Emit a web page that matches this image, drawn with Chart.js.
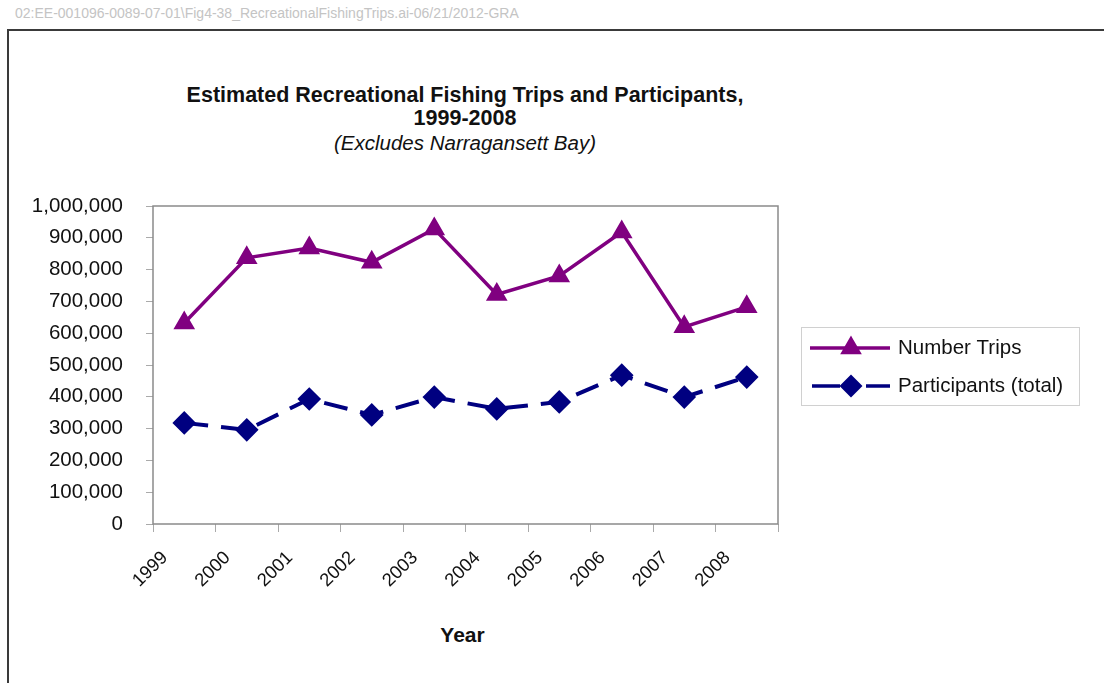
<!DOCTYPE html>
<html>
<head>
<meta charset="utf-8">
<script src="https://cdn.jsdelivr.net/npm/chart.js@4.4.1/dist/chart.umd.min.js"></script>
<style>
  html, body { margin: 0; padding: 0; background: #fff; }
  #wrap { position: relative; width: 1104px; height: 683px; overflow: hidden; font-family: "Liberation Sans", Arial, sans-serif; }
  #hdr { position: absolute; left: 15px; top: 5px; font-size: 14px; color: #c4c4c4; white-space: nowrap; }
  #frame { position: absolute; left: 7px; top: 29px; width: 1200px; height: 800px; border-left: 2px solid #3a3a3a; border-top: 2px solid #3a3a3a; }
  .t { position: absolute; left: 0; width: 930px; text-align: center; color: #111; white-space: nowrap; line-height: 1; }
  #t1 { top: 85px; font-size: 21.5px; font-weight: bold; }
  #t2 { top: 108px; font-size: 21.5px; font-weight: bold; }
  #t3 { top: 133px; font-size: 20.5px; font-style: italic; }
  #xt { position: absolute; left: 0; width: 925px; top: 624px; text-align: center; font-size: 21px; font-weight: bold; color: #111; line-height: 1; }
  canvas { position: absolute; left: 0; top: 0; }
</style>
</head>
<body>
<div id="wrap">
  <div id="hdr">02:EE-001096-0089-07-01\Fig4-38_RecreationalFishingTrips.ai-06/21/2012-GRA</div>
  <div id="frame"></div>
  <div class="t" id="t1">Estimated Recreational Fishing Trips and Participants,</div>
  <div class="t" id="t2">1999-2008</div>
  <div class="t" id="t3">(Excludes Narragansett Bay)</div>
  <div id="xt">Year</div>
  <canvas id="c" width="1104" height="683"></canvas>
</div>
<script>
const years = ["1999","2000","2001","2002","2003","2004","2005","2006","2007","2008"];
const tripsLabel = "Number Trips";
const partsLabel = "Participants (total)";
const trips = [632000, 837000, 868000, 823000, 928000, 722000, 780000, 918000, 620000, 683000];
const participants = [318000, 296000, 393000, 343000, 399000, 362000, 384000, 468000, 399000, 462000];
const yTicksMax = 1000000;
const yTickStep = 100000;

const purple = "#800080";
const navy = "#000080";

const toPoints = arr => arr.map((v, i) => ({ x: i + 0.5, y: v }));

const framePlugin = {
  id: "frameBox",
  beforeDatasetsDraw(chart) {
    const { ctx, chartArea: a } = chart;
    ctx.save();
    ctx.strokeStyle = "#8a8a8a";
    ctx.lineWidth = 1.5;
    ctx.strokeRect(a.left, a.top, a.right - a.left, a.bottom - a.top);
    ctx.restore();
  }
};

const legendPlugin = {
  id: "customLegend",
  afterDraw(chart) {
    const ctx = chart.ctx;
    ctx.save();
    ctx.strokeStyle = "#d0d0d0";
    ctx.lineWidth = 1;
    ctx.strokeRect(801.5, 327.5, 278, 78);
    const ds = chart.data.datasets;
    const rows = [348, 386];
    ds.forEach((d, i) => {
      const y = rows[i];
      ctx.strokeStyle = d.borderColor;
      ctx.lineWidth = 3.5;
      ctx.beginPath();
      if (d.borderDash && d.borderDash.length) {
        ctx.moveTo(812, y); ctx.lineTo(840, y);
        ctx.moveTo(866, y); ctx.lineTo(890, y);
      } else {
        ctx.moveTo(810, y); ctx.lineTo(890, y);
      }
      ctx.stroke();
      ctx.fillStyle = d.pointBackgroundColor;
      ctx.strokeStyle = d.pointBorderColor;
      Chart.helpers.drawPoint(ctx, { pointStyle: d.pointStyle, radius: d.pointRadius, rotation: 0, borderWidth: 1 }, 851, y);
      ctx.fillStyle = "#111";
      ctx.font = "20.5px 'Liberation Sans', Arial, sans-serif";
      ctx.textBaseline = "middle";
      ctx.textAlign = "left";
      ctx.fillText(d.label, 898, y);
    });
    ctx.restore();
  }
};

new Chart(document.getElementById("c"), {
  type: "line",
  data: {
    datasets: [
      {
        label: tripsLabel,
        data: toPoints(trips),
        borderColor: purple,
        backgroundColor: purple,
        borderWidth: 3.5,
        pointStyle: "triangle",
        pointRadius: 9,
        pointBackgroundColor: purple,
        pointBorderColor: purple,
        tension: 0
      },
      {
        label: partsLabel,
        data: toPoints(participants),
        borderColor: navy,
        backgroundColor: navy,
        borderWidth: 4,
        borderDash: [24, 13],
        pointStyle: "rectRot",
        pointRadius: 9,
        pointBackgroundColor: navy,
        pointBorderColor: navy,
        tension: 0
      }
    ]
  },
  options: {
    responsive: false,
    animation: false,
    events: [],
    layout: { padding: { left: 0, right: 326, top: 206, bottom: 0 } },
    plugins: { legend: { display: false }, tooltip: { enabled: false }, title: { display: false } },
    scales: {
      x: {
        type: "linear",
        min: 0,
        max: years.length,
        afterFit(s) { s.height = 159; },
        afterBuildTicks(s) { s.ticks = Array.from({ length: years.length + 1 }, (_, i) => ({ value: i })); },
        ticks: {
          autoSkip: false,
          stepSize: 1,
          minRotation: 45,
          maxRotation: 45,
          labelOffset: 12,
          padding: 15,
          color: "#111",
          font: { family: "'Liberation Sans', Arial, sans-serif", size: 18.5 },
          callback: (v) => (years[v] !== undefined ? years[v] : "")
        },
        grid: { drawOnChartArea: false, drawTicks: true, tickLength: 8, color: "#aaaaaa" },
        border: { display: false }
      },
      y: {
        min: 0,
        max: yTicksMax,
        afterFit(s) { s.width = 153; },
        ticks: {
          stepSize: yTickStep,
          padding: 23,
          color: "#111",
          font: { family: "'Liberation Sans', Arial, sans-serif", size: 20.5 },
          callback: (v) => v.toLocaleString("en-US")
        },
        grid: { drawOnChartArea: false, drawTicks: true, tickLength: 7, color: "#aaaaaa" },
        border: { display: false }
      }
    }
  },
  plugins: [framePlugin, legendPlugin]
});
</script>
</body>
</html>
